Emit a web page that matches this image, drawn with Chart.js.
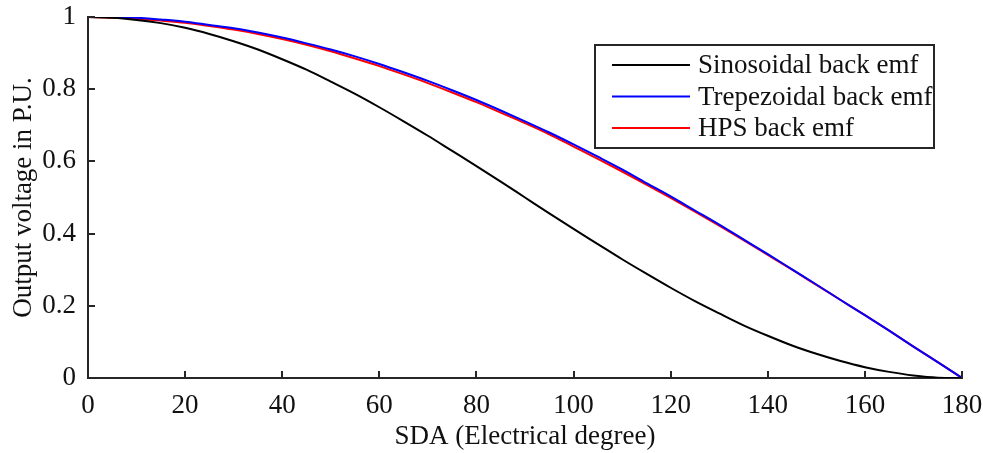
<!DOCTYPE html>
<html>
<head>
<meta charset="utf-8">
<script src="https://cdn.jsdelivr.net/npm/chart.js@4.4.1/dist/chart.umd.min.js"></script>
<style>
  body { margin: 0; background: #fff; }
  #wrap { width: 983px; height: 453px; position: relative; }
</style>
</head>
<body>
<div id="wrap"><canvas id="emfChart"></canvas></div>
<script>
// SDA in electrical degrees
const sda = [0, 5, 10, 15, 20, 25, 30, 35, 40, 45, 50, 55, 60, 65, 70, 75, 80, 85, 90,
  95, 100, 105, 110, 115, 120, 125, 130, 135, 140, 145, 150, 155, 160, 165, 170, 175, 180];

// output voltage (P.U.) for each back emf shape
const sinusoidal = [1.000, 0.998, 0.992, 0.983, 0.970, 0.953, 0.933, 0.910, 0.883, 0.854,
  0.821, 0.787, 0.750, 0.711, 0.671, 0.629, 0.587, 0.544, 0.500, 0.456, 0.413, 0.371,
  0.329, 0.289, 0.250, 0.213, 0.179, 0.146, 0.117, 0.090, 0.067, 0.047, 0.030, 0.017,
  0.007, 0.001, 0.000];
const trapezoidal = [1.000, 1.000, 0.998, 0.993, 0.987, 0.978, 0.969, 0.957, 0.943, 0.927,
  0.910, 0.891, 0.870, 0.847, 0.823, 0.797, 0.770, 0.741, 0.711, 0.680, 0.647, 0.613,
  0.578, 0.540, 0.503, 0.464, 0.425, 0.384, 0.343, 0.301, 0.259, 0.216, 0.174, 0.131,
  0.087, 0.044, 0.000];
const hps = [1.000, 0.998, 0.995, 0.990, 0.984, 0.975, 0.965, 0.953, 0.939, 0.923,
  0.905, 0.885, 0.864, 0.841, 0.817, 0.791, 0.764, 0.735, 0.706, 0.675, 0.641, 0.607,
  0.572, 0.536, 0.499, 0.461, 0.422, 0.382, 0.341, 0.300, 0.258, 0.216, 0.174, 0.131,
  0.087, 0.044, 0.000];

const seriesNames = ['Sinosoidal back emf', 'Trepezoidal back emf', 'HPS back emf'];
const xTicks = [0, 20, 40, 60, 80, 100, 120, 140, 160, 180];
const yTicks = [0, 0.2, 0.4, 0.6, 0.8, 1];

const FONT = '"Liberation Serif", "Times New Roman", serif';
const FSIZE = 27;
const AXIS = '#262626';

const toPts = ys => sda.map((x, i) => ({ x: x, y: ys[i] }));

// ticks pointing into the plot, like the matlab style
const innerTicks = {
  id: 'innerTicks',
  afterDatasetsDraw(chart) {
    const { ctx, chartArea, scales } = chart;
    ctx.save();
    ctx.strokeStyle = AXIS;
    ctx.lineWidth = 2;
    ctx.beginPath();
    xTicks.forEach(v => {
      const px = Math.round(scales.x.getPixelForValue(v));
      ctx.moveTo(px, chartArea.bottom);
      ctx.lineTo(px, chartArea.bottom - 7);
    });
    yTicks.forEach(v => {
      const py = Math.round(scales.y.getPixelForValue(v));
      ctx.moveTo(chartArea.left, py);
      ctx.lineTo(chartArea.left + 7, py);
    });
    ctx.stroke();
    ctx.restore();
  }
};

// boxed legend in the upper right of the plot
const boxLegend = {
  id: 'boxLegend',
  afterDraw(chart) {
    const { ctx, chartArea } = chart;
    const right = chartArea.right - 28, top = chartArea.top + 28;
    const w = 339, h = 103;
    const left = right - w;
    ctx.save();
    ctx.fillStyle = '#fff';
    ctx.fillRect(left, top, w, h);
    ctx.strokeStyle = AXIS;
    ctx.lineWidth = 2;
    ctx.strokeRect(left, top, w, h);
    ctx.font = FSIZE + 'px ' + FONT;
    ctx.textBaseline = 'middle';
    chart.data.datasets.forEach((ds, i) => {
      const y = top + 20 + i * 31.5;
      ctx.strokeStyle = ds.borderColor;
      ctx.lineWidth = 2;
      ctx.beginPath();
      ctx.moveTo(left + 17, y);
      ctx.lineTo(left + 95, y);
      ctx.stroke();
      ctx.fillStyle = '#111';
      ctx.fillText(ds.label, left + 103, y + 1);
    });
    ctx.restore();
  }
};

new Chart(document.getElementById('emfChart'), {
  type: 'line',
  data: {
    datasets: [
      { label: seriesNames[0], data: toPts(sinusoidal), borderColor: '#000000' },
      { label: seriesNames[1], data: toPts(trapezoidal), borderColor: '#0000ff' },
      { label: seriesNames[2], data: toPts(hps), borderColor: '#ff0000' }
    ]
  },
  options: {
    responsive: true,
    maintainAspectRatio: false,
    animation: false,
    elements: {
      line: { borderWidth: 2, tension: 0, cubicInterpolationMode: 'monotone' },
      point: { radius: 0 }
    },
    layout: { padding: { top: 17, right: 21, left: 0, bottom: 0 } },
    plugins: { legend: { display: false }, tooltip: { enabled: false } },
    scales: {
      x: {
        type: 'linear', min: 0, max: 180,
        afterBuildTicks: s => { s.ticks = xTicks.map(v => ({ value: v })); },
        afterFit: s => { s.height = 75; s.paddingLeft = 0; s.paddingRight = 0; },
        grid: { display: false, drawTicks: false },
        border: { display: true, color: AXIS, width: 2 },
        ticks: { color: '#111', padding: 12, maxRotation: 0, font: { family: FONT, size: FSIZE } },
        title: { display: true, text: 'SDA (Electrical degree)', color: '#111',
          padding: { top: 0, bottom: 0 }, font: { family: FONT, size: FSIZE } }
      },
      y: {
        min: 0, max: 1,
        afterBuildTicks: s => { s.ticks = yTicks.map(v => ({ value: v })); },
        afterFit: s => { s.width = 88; s.paddingTop = 0; s.paddingBottom = 0; },
        grid: { display: false, drawTicks: false },
        border: { display: true, color: AXIS, width: 2 },
        ticks: { color: '#111', padding: 12, font: { family: FONT, size: FSIZE },
          callback: v => String(v) },
        title: { display: true, text: 'Output voltage in P.U.', color: '#111',
          padding: { top: 8, bottom: 8 }, font: { family: FONT, size: FSIZE } }
      }
    }
  },
  plugins: [innerTicks, boxLegend]
});
</script>
</body>
</html>
